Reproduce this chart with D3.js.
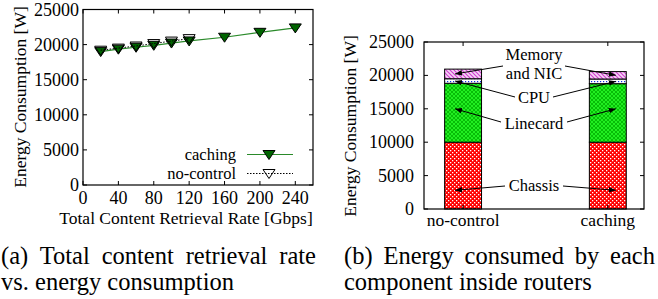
<!DOCTYPE html>
<html>
<head>
<meta charset="utf-8">
<script src="https://d3js.org/d3.v7.min.js"></script>
<style>
  body { margin: 0; background: #fff; }
  svg text { font-family: "Liberation Serif", "Times New Roman", Times, "DejaVu Serif", serif; fill: #000; }
</style>
</head>
<body>
<svg width="658" height="299" font-family="Liberation Serif, Times New Roman, serif"></svg>
<script>
// left panel data
var rateCaching = [20, 40, 60, 80, 100, 120, 160, 200, 240];
var energyCaching = [19000, 19350, 19620, 19900, 20220, 20520, 21050, 21750, 22380];
var rateNoControl = [20, 40, 60, 80, 100, 120];
var energyNoControl = [19200, 19500, 19800, 20150, 20500, 20850];
var xTicksA = [0, 40, 80, 120, 160, 200, 240];
var yTicks = [0, 5000, 10000, 15000, 20000, 25000];

// right panel data (stacked)
var methods = ["no-control", "caching"];
var components = ["Chassis", "Linecard", "CPU", "Memory"];
var chassis = [10000, 10000];
var linecard = [8820, 8760];
var cpu = [680, 700];
var memory = [1440, 1110];

var FONT = "'Liberation Serif', 'Times New Roman', serif";
var svg = d3.select("svg");
var defs = svg.append("defs");

// fill patterns like gnuplot
var p = defs.append("pattern").attr("id", "pChassis").attr("patternUnits", "userSpaceOnUse")
    .attr("width", 4).attr("height", 4);
p.append("rect").attr("width", 4).attr("height", 4).attr("fill", "#ff0000");
p.append("rect").attr("x", 0).attr("y", 0).attr("width", 1.3).attr("height", 1.3).attr("fill", "#fff");
p.append("rect").attr("x", 2).attr("y", 2).attr("width", 1.3).attr("height", 1.3).attr("fill", "#fff");

p = defs.append("pattern").attr("id", "pLinecard").attr("patternUnits", "userSpaceOnUse")
    .attr("width", 4).attr("height", 4);
p.append("rect").attr("width", 4).attr("height", 4).attr("fill", "#22ee22");
p.append("path").attr("d", "M0,0L4,4M4,0L0,4").attr("stroke", "#00b000").attr("stroke-width", 0.8);

p = defs.append("pattern").attr("id", "pCPU").attr("patternUnits", "userSpaceOnUse")
    .attr("width", 3).attr("height", 3);
p.append("rect").attr("width", 3).attr("height", 3).attr("fill", "#fff");
p.append("rect").attr("x", 0).attr("y", 0).attr("width", 1.2).attr("height", 1.2).attr("fill", "#1030e0");

p = defs.append("pattern").attr("id", "pMemory").attr("patternUnits", "userSpaceOnUse")
    .attr("width", 4).attr("height", 4);
p.append("rect").attr("width", 4).attr("height", 4).attr("fill", "#f6d6f6");
p.append("path").attr("d", "M-1,-1L5,5M-1,3L1,5M3,-1L5,1").attr("stroke", "#d040d0").attr("stroke-width", 1.2);

defs.append("marker").attr("id", "arrow").attr("viewBox", "0 0 10 10")
    .attr("refX", 10).attr("refY", 5).attr("markerWidth", 7).attr("markerHeight", 7)
    .attr("orient", "auto-start-reverse").attr("markerUnits", "userSpaceOnUse")
  .append("path").attr("d", "M0,1L10,5L0,9z").attr("fill", "#000");

function label(g, x, y, size, anchor, txt) {
  return g.append("text").attr("x", x).attr("y", y).attr("font-size", size)
    .attr("text-anchor", anchor).style("font-family", FONT).text(txt);
}

function frameTicks(g, x, y, x0, x1, y0, y1, xt, yt) {
  var len = 4;
  yt.forEach(function(v) {
    g.append("line").attr("x1", x0).attr("x2", x0 + len).attr("y1", y(v)).attr("y2", y(v)).attr("stroke", "#000");
    g.append("line").attr("x1", x1).attr("x2", x1 - len).attr("y1", y(v)).attr("y2", y(v)).attr("stroke", "#000");
  });
  xt.forEach(function(v) {
    g.append("line").attr("x1", x(v)).attr("x2", x(v)).attr("y1", y0).attr("y2", y0 - len).attr("stroke", "#000");
    g.append("line").attr("x1", x(v)).attr("x2", x(v)).attr("y1", y1).attr("y2", y1 + len).attr("stroke", "#000");
  });
  g.append("rect").attr("x", x0).attr("y", y1).attr("width", x1 - x0).attr("height", y0 - y1)
    .attr("fill", "none").attr("stroke", "#000").attr("stroke-width", 1.2);
}

// ---------- panel (a) ----------
var xa = d3.scaleLinear().domain([0, 260]).range([83, 313]);
var ya = d3.scaleLinear().domain([0, 25000]).range([185, 9.5]);
var ga = svg.append("g");

var lineA = d3.line().x(function(d) { return xa(d[0]); }).y(function(d) { return ya(d[1]); });
var tri = function(g, cx, cy, fill) {
  g.append("path").attr("d", "M" + (cx - 6) + "," + (cy - 4) + "L" + (cx + 6) + "," + (cy - 4) + "L" + cx + "," + (cy + 5) + "Z")
    .attr("fill", fill).attr("stroke", "#000").attr("stroke-width", 1);
};

ga.append("path").datum(d3.zip(rateCaching, energyCaching)).attr("d", lineA)
  .attr("fill", "none").attr("stroke", "#2a8a2a").attr("stroke-width", 1.2);
rateCaching.forEach(function(r, i) { tri(ga, xa(r), ya(energyCaching[i]), "#006400"); });
ga.append("path").datum(d3.zip(rateNoControl, energyNoControl)).attr("d", lineA)
  .attr("fill", "none").attr("stroke", "#000").attr("stroke-width", 1).attr("stroke-dasharray", "1.5,1.5");
rateNoControl.forEach(function(r, i) { tri(ga, xa(r), ya(energyNoControl[i]), "none"); });

frameTicks(ga, xa, ya, 83, 313, 185, 9.5, xTicksA, yTicks);

yTicks.forEach(function(d) { label(ga, 79, ya(d) + 6, 18, "end", d); });
xTicksA.forEach(function(d) { label(ga, xa(d), 204, 18, "middle", d); });
label(ga, 186, 224, 17.5, "middle", "Total Content Retrieval Rate [Gbps]");
label(ga, 0, 0, 17.5, "middle", "Energy Consumption [W]").attr("transform", "translate(26,97) rotate(-90)");

// legend
label(ga, 236, 160, 16.5, "end", "caching");
ga.append("line").attr("x1", 247).attr("x2", 293).attr("y1", 154.5).attr("y2", 154.5).attr("stroke", "#2a8a2a").attr("stroke-width", 1.2);
tri(ga, 269, 154.5, "#006400");
label(ga, 236, 179, 16.5, "end", "no-control");
ga.append("line").attr("x1", 247).attr("x2", 293).attr("y1", 173.5).attr("y2", 173.5).attr("stroke", "#000").attr("stroke-dasharray", "1.5,1.5");
tri(ga, 269, 173.5, "none");

// ---------- panel (b) ----------
var xb = d3.scaleLinear().domain([-0.27, 1.25]).range([424, 644]);
var yb = d3.scaleLinear().domain([0, 25000]).range([209, 42]);
var gb = svg.append("g");
var barW = 0.255;
var stackData = methods.map(function(m, i) {
  return { method: i, Chassis: chassis[i], Linecard: linecard[i], CPU: cpu[i], Memory: memory[i] };
});
var series = d3.stack().keys(components)(stackData);
var fills = { Chassis: "url(#pChassis)", Linecard: "url(#pLinecard)", CPU: "url(#pCPU)", Memory: "url(#pMemory)" };

series.forEach(function(s) {
  gb.selectAll(null).data(s).enter().append("rect")
    .attr("x", function(d) { return xb(d.data.method - barW / 2); })
    .attr("width", function(d) { return xb(barW) - xb(0); })
    .attr("y", function(d) { return yb(d[1]); })
    .attr("height", function(d) { return yb(d[0]) - yb(d[1]); })
    .attr("fill", fills[s.key]).attr("stroke", "#000").attr("stroke-width", 1);
});

frameTicks(gb, xb, yb, 424, 644, 209, 42, [0, 1], yTicks);

yTicks.forEach(function(d) { label(gb, 414, yb(d) + 6, 18, "end", d); });
methods.forEach(function(d, i) { label(gb, xb(i), 226, 17.5, "middle", d); });
label(gb, 0, 0, 17.5, "middle", "Energy Consumption [W]").attr("transform", "translate(356,126) rotate(-90)");

// annotations
var ann = [
  { lines: ["Memory", "and NIC"], tx: 534, ty: [60, 79], key: "Memory", l: [503, 66], r: [565, 66] },
  { lines: ["CPU"], tx: 534, ty: [103], key: "CPU", l: [515, 97], r: [553, 97] },
  { lines: ["Linecard"], tx: 534, ty: [129], key: "Linecard", l: [501, 122], r: [567, 122] },
  { lines: ["Chassis"], tx: 534, ty: [191], key: "Chassis", l: [505, 186], r: [563, 186] }
];
ann.forEach(function(a) {
  a.lines.forEach(function(t, i) { label(gb, a.tx, a.ty[i], 16.5, "middle", t); });
  var s = series.find(function(d) { return d.key === a.key; });
  [0, 1].forEach(function(i) {
    var d = s[i];
    var fy = a.key === "Chassis" ? 2800 : a.key === "Linecard" ? 15000 : (d[0] + d[1]) / 2;
    var tx = xb(i) + (i === 0 ? -8 : 8);
    var from = i === 0 ? a.l : a.r;
    gb.append("line").attr("x1", from[0]).attr("y1", from[1]).attr("x2", tx).attr("y2", yb(fy))
      .attr("stroke", "#000").attr("stroke-width", 1).attr("marker-end", "url(#arrow)");
  });
});

// captions (first line justified like LaTeX)
function justify(t, width) {
  var txt = t.text(), n = txt.split(" ").length - 1;
  var w = t.node().getComputedTextLength();
  if (n > 0 && w < width) t.attr("word-spacing", (width - w) / n);
}
justify(label(svg, 1, 264, 24.5, "start", "(a) Total content retrieval rate"), 315);
label(svg, 1, 290, 24.5, "start", "vs. energy consumption");
justify(label(svg, 344, 264, 24.5, "start", "(b) Energy consumed by each"), 311);
label(svg, 344, 290, 24.5, "start", "component inside routers");
</script>
</body>
</html>
